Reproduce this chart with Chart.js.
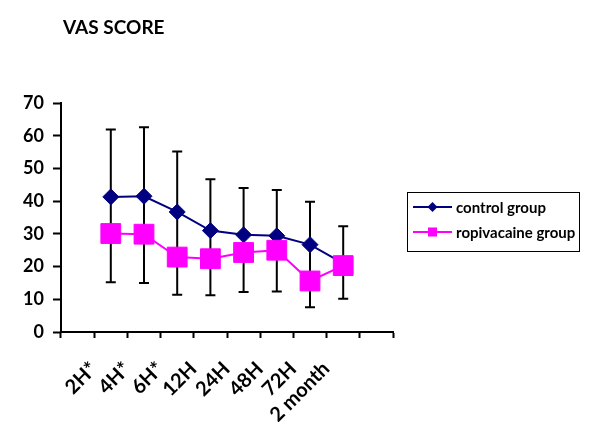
<!DOCTYPE html>
<html>
<head>
<meta charset="utf-8">
<script src="https://cdn.jsdelivr.net/npm/chart.js@4/dist/chart.umd.min.js"></script>
<style>
  body { margin: 0; background: #fff; }
  #wrap { position: relative; width: 600px; height: 446px; font-family: Lato, sans-serif; color: #000; }
  #title { position: absolute; left: 63px; top: 15px; font-weight: bold; font-size: 19px; line-height: 24px; }
  #legend { position: absolute; left: 407px; top: 192px; width: 171px; height: 58px; border: 1.5px solid #000; box-sizing: content-box; }
  .item { position: absolute; left: 5px; height: 20px; display: flex; align-items: center; font-weight: bold; font-size: 15px; }
  .item svg { margin-right: 4px; }
</style>
</head>
<body>
<div id="wrap">
  <div id="title">VAS SCORE</div>
  <canvas id="chart" width="600" height="446"></canvas>
  <div id="legend">
    <div class="item" style="top:4px">
      <svg width="39" height="14"><line x1="0" y1="7" x2="39" y2="7" stroke="#000080" stroke-width="2"/><polygon points="19.5,2 24.5,7 19.5,12 14.5,7" fill="#000080"/></svg>control group
    </div>
    <div class="item" style="top:29px">
      <svg width="39" height="14"><line x1="0" y1="7" x2="39" y2="7" stroke="#ff00ff" stroke-width="2"/><rect x="15" y="2.5" width="9" height="9" fill="#ff00ff"/></svg>ropivacaine group
    </div>
  </div>
</div>
<script>
// time points (first and last category slots are empty on the axis)
const timePoints = ['2H*', '4H*', '6H*', '12H', '24H', '48H', '72H', '2 month']
const controlGroup = [41.3, 41.5, 36.7, 31.0, 29.7, 29.4, 26.7, 21.0]
const ropivacaineGroup = [30.1, 29.9, 22.9, 22.4, 24.3, 25.0, 15.6, 20.3]
// error bar ends: control mean + SD, ropivacaine mean - SD
const controlUpper = [61.9, 62.6, 55.2, 46.7, 44.0, 43.4, 39.8, 32.3]
const ropivacaineLower = [15.2, 15.0, 11.4, 11.2, 12.2, 12.4, 7.6, 10.2]
const yTicks = [0, 10, 20, 30, 40, 50, 60, 70]

const labels = ['', ...timePoints, '']
const pad = arr => [null, ...arr, null]

const errorBars = {
    id: 'errorBars',
    beforeDatasetsDraw(chart) {
        const {ctx, scales: {x, y}} = chart
        ctx.save()
        ctx.strokeStyle = '#000'
        ctx.lineWidth = 2
        timePoints.forEach((t, i) => {
            const px = x.getPixelForValue(i + 1)
            const top = y.getPixelForValue(controlUpper[i])
            const bottom = y.getPixelForValue(ropivacaineLower[i])
            ctx.beginPath()
            ctx.moveTo(px, top); ctx.lineTo(px, bottom)
            ctx.moveTo(px - 5, top); ctx.lineTo(px + 5, top)
            ctx.moveTo(px - 5, bottom); ctx.lineTo(px + 5, bottom)
            ctx.stroke()
        })
        ctx.restore()
    }
}

Chart.defaults.font.family = 'Lato, sans-serif'
Chart.defaults.font.weight = 'bold'
Chart.defaults.color = '#000'

new Chart(document.getElementById('chart'), {
    type: 'line',
    data: {
        labels: labels,
        datasets: [
            {
                label: 'control group',
                data: pad(controlGroup),
                borderColor: '#000080',
                backgroundColor: '#000080',
                borderWidth: 2,
                pointStyle: 'rectRot',
                pointRadius: 8,
                pointBorderWidth: 1,
                order: 1
            },
            {
                label: 'ropivacaine group',
                data: pad(ropivacaineGroup),
                borderColor: '#ff00ff',
                backgroundColor: '#ff00ff',
                borderWidth: 2,
                pointStyle: 'rect',
                pointRadius: 14,
                pointBorderWidth: 1,
                order: 0
            }
        ]
    },
    options: {
        responsive: false,
        animation: false,
        layout: { padding: { left: 0, top: 103, right: 207, bottom: 0 } },
        plugins: { legend: { display: false }, tooltip: { enabled: false } },
        scales: {
            x: {
                offset: true,
                grid: { offset: true, drawOnChartArea: false, drawTicks: true, tickLength: 6, tickWidth: 2, color: '#000' },
                border: { color: '#000', width: 2 },
                ticks: { autoSkip: false, minRotation: 45, maxRotation: 45, padding: 19, labelOffset: -17, font: { size: 20, weight: 'bold' } },
                afterFit(scale) { scale.height = 114 }
            },
            y: {
                min: 0,
                max: 70,
                afterBuildTicks(scale) { scale.ticks = yTicks.map(v => ({value: v})) },
                grid: { drawOnChartArea: false, drawTicks: true, tickLength: 8, tickWidth: 2, color: '#000' },
                border: { color: '#000', width: 2 },
                ticks: { padding: 9, font: { size: 18, weight: 'bold' } },
                afterFit(scale) { scale.width = 61 }
            }
        }
    },
    plugins: [errorBars]
})
</script>
</body>
</html>
